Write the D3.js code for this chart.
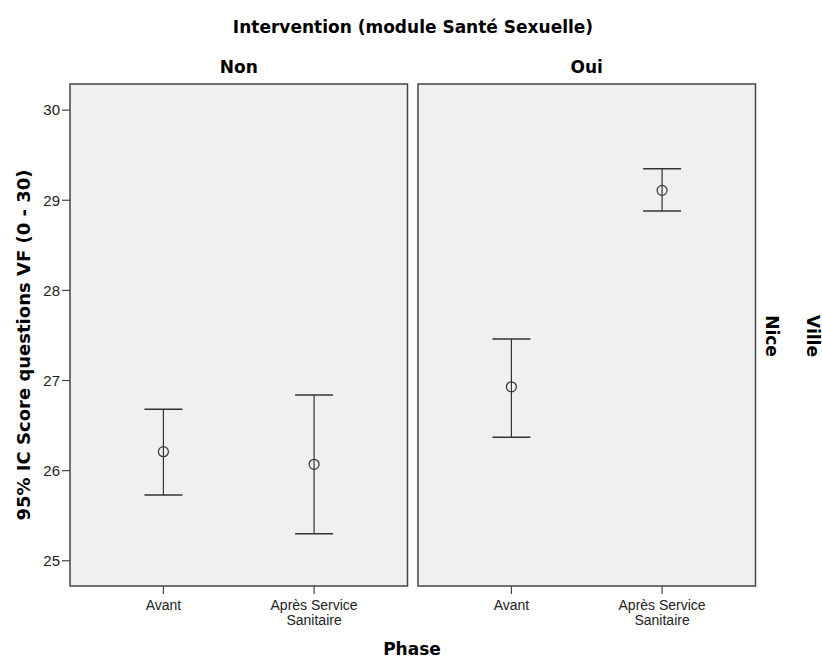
<!DOCTYPE html>
<html>
<head>
<meta charset="utf-8">
<script src="https://cdn.jsdelivr.net/npm/d3@7"></script>
<style>
  body { margin: 0; background: #fff; }
  text { font-family: Arial, "Liberation Sans", sans-serif; }
  .bold { font-family: "DejaVu Sans", sans-serif; font-weight: bold; fill: #000; }
</style>
</head>
<body>
<div id="chart"></div>
<script>
// data
var panels = ["Non", "Oui"];
var phases = ["Avant", "Après Service Sanitaire"];
var means = [[26.21, 26.07], [26.93, 29.11]];
var lower = [[25.73, 25.30], [26.37, 28.88]];
var upper = [[26.68, 26.84], [27.46, 29.35]];
var yTicks = [25, 26, 27, 28, 29, 30];

var width = 822, height = 658;
var plotTop = 84, plotBottom = 586;
var panelX = [70, 418], panelW = 337.5;

var svg = d3.select("#chart").append("svg")
    .attr("width", width)
    .attr("height", height);

var y = d3.scaleLinear()
    .domain([24.72, 30.29])
    .range([plotBottom, plotTop]);

var x = d3.scalePoint()
    .domain(phases)
    .range([0, panelW])
    .padding(0.62);

// main title + facet titles
svg.append("text")
    .attr("class", "bold")
    .attr("x", 413).attr("y", 33)
    .attr("text-anchor", "middle")
    .style("font-size", "17px")
    .text("Intervention (module Santé Sexuelle)");

panels.forEach(function(p, i) {
    var g = svg.append("g").attr("transform", `translate(${panelX[i]},0)`);

    g.append("text")
        .attr("class", "bold")
        .attr("x", panelW / 2).attr("y", 73)
        .attr("text-anchor", "middle")
        .style("font-size", "17px")
        .text(p);

    g.append("rect")
        .attr("x", 0).attr("y", plotTop)
        .attr("width", panelW).attr("height", plotBottom - plotTop)
        .style("fill", "#f0f0f0")
        .attr("stroke", "#444").attr("stroke-width", 1.5);

    // x ticks
    var xt = g.selectAll(".xt").data(phases).enter().append("g")
        .attr("transform", function(d) { return `translate(${x(d)},${plotBottom})`; });
    xt.append("line").attr("y1", 0).attr("y2", 8).attr("stroke", "#444").attr("stroke-width", 1.2);
    xt.each(function(d) {
        var words = d == "Avant" ? ["Avant"] : ["Après Service", "Sanitaire"];
        var t = d3.select(this).append("text")
            .attr("text-anchor", "middle")
            .style("font-size", "14px").style("fill", "#222");
        words.forEach(function(w, k) {
            t.append("tspan").attr("x", 0).attr("y", 24 + k * 15).text(w);
        });
    });

    // error bars
    var bars = g.selectAll(".bar").data(phases).enter().append("g")
        .attr("transform", function(d) { return `translate(${x(d)},0)`; });
    bars.append("line")
        .attr("y1", function(d, j) { return y(upper[i][j]); })
        .attr("y2", function(d, j) { return y(lower[i][j]); })
        .attr("stroke", "#333").attr("stroke-width", 1.2);
    bars.selectAll(".cap")
        .data(function(d, j) { return [upper[i][j], lower[i][j]]; })
        .enter().append("line")
        .attr("x1", -19).attr("x2", 19)
        .attr("y1", function(v) { return y(v); })
        .attr("y2", function(v) { return y(v); })
        .attr("stroke", "#333").attr("stroke-width", 1.5);
    bars.append("circle")
        .attr("cy", function(d, j) { return y(means[i][j]); })
        .attr("r", 5)
        .style("fill", "none")
        .attr("stroke", "#333").attr("stroke-width", 1.2);
});

// y axis
var yt = svg.selectAll(".yt").data(yTicks).enter().append("g")
    .attr("transform", function(d) { return `translate(${panelX[0]},${y(d)})`; });
yt.append("line").attr("x1", -8).attr("x2", 0).attr("stroke", "#444").attr("stroke-width", 1.2);
yt.append("text")
    .attr("x", -10).attr("dy", "0.35em")
    .attr("text-anchor", "end")
    .style("font-size", "15px").style("fill", "#222")
    .text(function(d) { return d; });

svg.append("text")
    .attr("class", "bold")
    .attr("transform", `translate(30,345) rotate(-90)`)
    .attr("text-anchor", "middle")
    .style("font-size", "18px")
    .text("95% IC Score questions VF (0 - 30)");

svg.append("text")
    .attr("class", "bold")
    .attr("x", 412).attr("y", 655)
    .attr("text-anchor", "middle")
    .style("font-size", "17px")
    .text("Phase");

// row facet labels
svg.append("text")
    .attr("class", "bold")
    .attr("transform", `translate(766,336) rotate(90)`)
    .attr("text-anchor", "middle")
    .style("font-size", "17px")
    .text("Nice");

svg.append("text")
    .attr("class", "bold")
    .attr("transform", `translate(807,336) rotate(90)`)
    .attr("text-anchor", "middle")
    .style("font-size", "17px")
    .text("Ville");
</script>
</body>
</html>
